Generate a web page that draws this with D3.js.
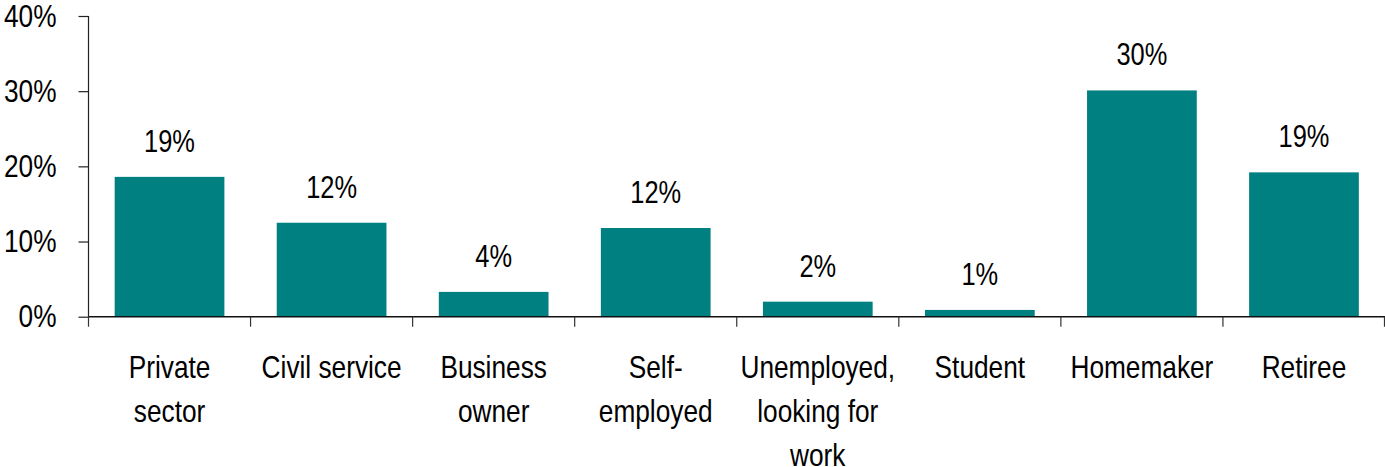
<!DOCTYPE html>
<html>
<head>
<meta charset="utf-8">
<script src="https://cdn.jsdelivr.net/npm/d3@7"></script>
<style>
  html, body { margin: 0; padding: 0; background: #fff; }
  svg { display: block; }
</style>
</head>
<body>
<svg id="chart" width="1385" height="467"></svg>
<script>
// ---- data ----
const categories = [
  "Private\nsector",
  "Civil service",
  "Business\nowner",
  "Self-\nemployed",
  "Unemployed,\nlooking for\nwork",
  "Student",
  "Homemaker",
  "Retiree"
];
const values = [18.6, 12.5, 3.3, 11.8, 2.0, 0.9, 30.1, 19.2];
const valueLabels = ["19%", "12%", "4%", "12%", "2%", "1%", "30%", "19%"];
const yTicks = [0, 10, 20, 30, 40];
const yTickLabels = ["0%", "10%", "20%", "30%", "40%"];

// ---- layout ----
const x0 = 88.5, x1 = 1385, yBase = 316.7, yTop = 16;
const barColor = "#008080";
const FONT = "'Liberation Sans',Arial,sans-serif";
const SQUEEZE = 0.82;

const svg = d3.select("#chart");

function narrowize(sel) {
  sel.each(function() {
    const len = this.getComputedTextLength();
    if (len > 0) {
      d3.select(this).attr("textLength", len * SQUEEZE).attr("lengthAdjust", "spacingAndGlyphs");
    }
  });
}

const x = d3.scaleBand().domain(d3.range(categories.length)).range([x0, x1]).padding(0);
const xBar = d3.scaleBand().domain(d3.range(categories.length)).range([x0, x1])
  .paddingInner(0.323).paddingOuter(0.1615);
const y = d3.scaleLinear().domain([0, 40]).range([yBase, yTop]);

// bars
svg.append("g").selectAll("rect").data(values).join("rect")
  .attr("x", (d, i) => xBar(i))
  .attr("width", xBar.bandwidth())
  .attr("y", d => y(d))
  .attr("height", d => yBase - y(d))
  .attr("fill", barColor);

// value labels
const vl = svg.append("g").selectAll("text").data(values).join("text")
  .attr("x", (d, i) => xBar(i) + xBar.bandwidth() / 2)
  .attr("y", d => y(d) - 25)
  .attr("text-anchor", "middle")
  .style("font-family", FONT)
  .style("font-size", "31px")
  .attr("fill", "#000")
  .text((d, i) => valueLabels[i]);
narrowize(vl);

// y axis
const yAxis = d3.axisLeft(y).tickValues(yTicks)
  .tickFormat((d, i) => yTickLabels[i]).tickSize(10).tickPadding(22);
const gy = svg.append("g").attr("transform", `translate(${x0},0)`).call(yAxis);
gy.select(".domain").attr("stroke", "#222").attr("stroke-width", 1.2).attr("d", `M0,${yTop}V${yBase}`);
gy.selectAll(".tick line").attr("stroke", "#222").attr("stroke-width", 1.2);
gy.selectAll(".tick text").style("font-family", FONT).style("font-size", "32px").attr("fill", "#000");
narrowize(gy.selectAll(".tick text"));

// x axis: baseline with ticks at band boundaries
const boundaries = d3.range(categories.length + 1).map(i => i < categories.length ? x(i) : x1 - 0.5);
const gx = svg.append("g");
gx.append("line").attr("x1", x0).attr("x2", x1).attr("y1", yBase).attr("y2", yBase)
  .attr("stroke", "#111").attr("stroke-width", 1.4);
gx.selectAll("line.tk").data(boundaries).join("line").attr("class", "tk")
  .attr("x1", d => d).attr("x2", d => d).attr("y1", yBase).attr("y2", yBase + 10)
  .attr("stroke", "#333").attr("stroke-width", 1.2);

// category labels (one text per line)
const lineH = 44;
const firstBase = 377.7;
const catLines = [];
categories.forEach((d, i) => d.split("\n").forEach((line, j) => catLines.push({ i, j, line })));
const cl = gx.selectAll("text.cat").data(catLines).join("text").attr("class", "cat")
  .attr("text-anchor", "middle")
  .attr("x", d => x(d.i) + x.bandwidth() / 2)
  .attr("y", d => firstBase + d.j * lineH)
  .style("font-family", FONT)
  .style("font-size", "32px")
  .attr("fill", "#000")
  .text(d => d.line);
narrowize(cl);
</script>
</body>
</html>
